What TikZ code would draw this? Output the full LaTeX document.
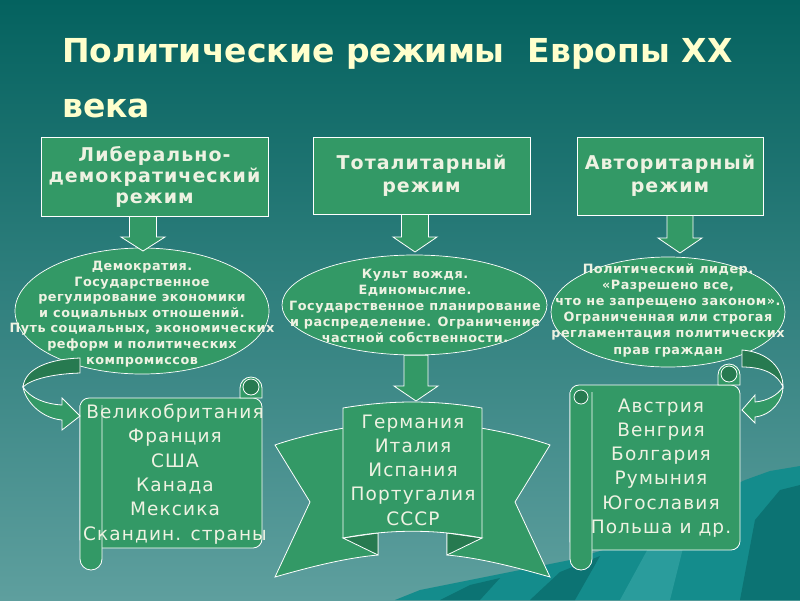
\documentclass[tikz,border=0pt]{standalone}
\usepackage{fontspec}
\setmainfont{DejaVu Sans}
\newfontfamily\ttlfont{DejaVu Sans}
\newfontfamily\hdfont[LetterSpace=5.5]{DejaVu Sans}
\newfontfamily\elfont[LetterSpace=4]{DejaVu Sans}
\newfontfamily\lsfont[LetterSpace=6]{DejaVu Sans}
\usetikzlibrary{shapes.geometric}
\definecolor{bgtop}{HTML}{04625F}
\definecolor{bgbot}{HTML}{5E9F9E}
\definecolor{gfill}{HTML}{339966}
\definecolor{gdark}{HTML}{277A50}
\definecolor{txt}{HTML}{EEF2E2}
\definecolor{ttl}{HTML}{FFFFCC}
\definecolor{mtn}{HTML}{148C8C}
\definecolor{mtnd}{HTML}{0C7373}
\definecolor{mtnl}{HTML}{2A9C9C}
\newcommand\blockdown[6]{%
  \draw[blk] (#1-#2,#3) -- (#1+#2,#3) -- (#1+#2,#4) -- (#1+#5,#4) -- (#1,#6) -- (#1-#5,#4) -- (#1-#2,#4) -- cycle;}
\begin{document}
\begin{tikzpicture}[x=1pt,y=-1pt,
  hbox/.style={draw=white, line width=0.8pt, fill=gfill, text=txt, align=center, inner sep=0pt,
     font=\hdfont\bfseries\fontsize{19}{21}\selectfont},
  oval/.style={ellipse, draw=white, line width=0.7pt, fill=gfill, inner sep=0pt},
  blk/.style={draw=white, line width=0.8pt, fill=gfill, line join=miter},
  dk/.style={draw=white, line width=0.8pt, fill=gdark},
  eltxt/.style={text=txt, align=center, inner sep=0pt, font=\elfont\bfseries\fontsize{12.8}{16}\selectfont},
  lstxt/.style={text=txt, align=center, inner sep=0pt, font=\lsfont\fontsize{18.5}{24.3}\selectfont},
  ttltxt/.style={text=ttl, anchor=base west, inner sep=0pt, font=\ttlfont\bfseries\fontsize{33}{36}\selectfont}]
\useasboundingbox (0,0) rectangle (800,600);
\shade[top color=bgtop, bottom color=bgbot] (0,0) rectangle (800,600);
% mountain
\fill[mtn] (395,600) -- (420,590) -- (455,583) -- (490,576) -- (530,568) -- (570,560) -- (610,548) -- (650,530) -- (690,510) -- (720,492) -- (745,480) -- (770,471) -- (800,466) -- (800,600) -- cycle;
\fill[mtnd] (440,600) -- (470,585) -- (500,578) -- (480,600) -- cycle;
\fill[mtnd] (530,600) -- (560,572) -- (600,556) -- (575,600) -- cycle;
\fill[mtnl] (620,600) -- (650,545) -- (690,520) -- (670,600) -- cycle;
\fill[mtnd] (740,600) -- (755,520) -- (780,490) -- (800,485) -- (800,600) -- cycle;
% title
\node[ttltxt] (t1) at (62,62) {Политические режимы\ \ Европы XX};
\node[ttltxt] (t2) at (62,117) {века};
% boxes
\node[hbox, minimum width=227, minimum height=79] (b1) at (154.5,176.5) {Либерально-\\демократический\\режим};
\node[hbox, minimum width=217, minimum height=77, font=\hdfont\bfseries\fontsize{19}{23}\selectfont] (b2) at (421.5,175.5) {Тоталитарный\\режим};
\node[hbox, minimum width=186, minimum height=78, font=\hdfont\bfseries\fontsize{19}{23}\selectfont] (b3) at (670,176) {Авторитарный\\режим};
% ellipses
\node[oval, minimum width=254, minimum height=126] (e1) at (142,311) {};
\node[oval, minimum width=265, minimum height=100] (e2) at (414.5,305) {};
\node[oval, minimum width=234, minimum height=110] (e3) at (668,312) {};
% down arrows
\blockdown{143}{13.5}{216.4}{237}{22}{251}
\blockdown{415}{13.5}{214.4}{237}{22}{252}
\blockdown{680}{13}{215.4}{238}{22}{253}
\blockdown{416}{12}{355.3}{386}{22}{401}
% ribbon
\draw[blk] (350,427) .. controls (320,432) and (295,438) .. (275,445) -- (310,502) -- (275,577) .. controls (310,567) and (345,558) .. (378,555) -- (378,500) -- (350,500) -- cycle;
\draw[blk] (475,427) .. controls (505,432) and (530,438) .. (550,445) -- (515,502) -- (550,577) .. controls (515,567) and (480,558) .. (447,555) -- (447,500) -- (475,500) -- cycle;
\draw[dk] (343,538) -- (378,555) -- (378,533) -- cycle;
\draw[dk] (482,538) -- (447,555) -- (447,533) -- cycle;
\draw[blk] (343,408) .. controls (390,400) and (435,400) .. (482,408) -- (482,538) .. controls (435,529) and (390,529) .. (343,538) -- cycle;
% left scroll
\draw[blk, rounded corners=9pt] (80,398) rectangle (262,548);
\draw[blk] (240,398) -- (240,388) arc[start angle=180, end angle=0, radius=11pt] -- (262,398) -- cycle;
\draw[dk] (251,387) circle (8pt);
\draw[blk] (102,405) -- (102,559) arc[start angle=0, end angle=-180, radius=11pt] -- (80,405);
% right scroll
\draw[blk, rounded corners=9pt] (570,385) rectangle (740,550);
\draw[blk] (718,385) -- (718,375) arc[start angle=180, end angle=0, radius=11pt] -- (740,385) -- cycle;
\draw[dk] (729,374) circle (8pt);
\draw[blk] (592,392) -- (592,559) arc[start angle=0, end angle=-180, radius=11pt] -- (570,392);
\draw[dk] (581,397) circle (7pt);
% curved arrows
\draw[dk] (80,358) .. controls (50,359) and (25,368) .. (23,387) .. controls (30,380) and (50,374) .. (80,373) -- cycle;
\draw[blk] (23,387) .. controls (25,400) and (40,418) .. (62,420) -- (62,430) -- (80,416) -- (62,398) -- (62,405) .. controls (45,404) and (30,398) .. (23,387) -- cycle;
\draw[dk] (742,350) .. controls (768,352) and (783,368) .. (783,387) .. controls (778,375) and (765,367) .. (742,367) -- cycle;
\draw[blk] (783,387) .. controls (783,400) and (772,415) .. (755,417) -- (755,423) -- (742,410) -- (755,395) -- (755,402) .. controls (767,401) and (778,395) .. (783,387) -- cycle;
% ellipse texts
\node[eltxt, font=\elfont\bfseries\fontsize{12.8}{15.6}\selectfont] (x1) at (142,314) {Демократия.\\Государственное\\регулирование экономики\\и социальных отношений.\\Путь социальных, экономических\\реформ и политических\\компромиссов};
\node[eltxt, font=\elfont\bfseries\fontsize{12.8}{16.2}\selectfont] (x2) at (415,306) {Культ вождя.\\Единомыслие.\\Государственное планирование\\и распределение. Ограничение\\частной собственности.};
\node[eltxt, font=\elfont\bfseries\fontsize{12.8}{16.2}\selectfont] (x3) at (668,310) {Политический лидер.\\«Разрешено все,\\что не запрещено законом».\\Ограниченная или строгая\\регламентация политических\\прав граждан};
% lists
\node[lstxt] (l1) at (175,474) {Великобритания\\Франция\\США\\Канада\\Мексика\\Скандин. страны};
\node[lstxt] (l2) at (413,470) {Германия\\Италия\\Испания\\Португалия\\СССР};
\node[lstxt] (l3) at (661,468) {Австрия\\Венгрия\\Болгария\\Румыния\\Югославия\\Польша и др.};
\end{tikzpicture}
\end{document}
